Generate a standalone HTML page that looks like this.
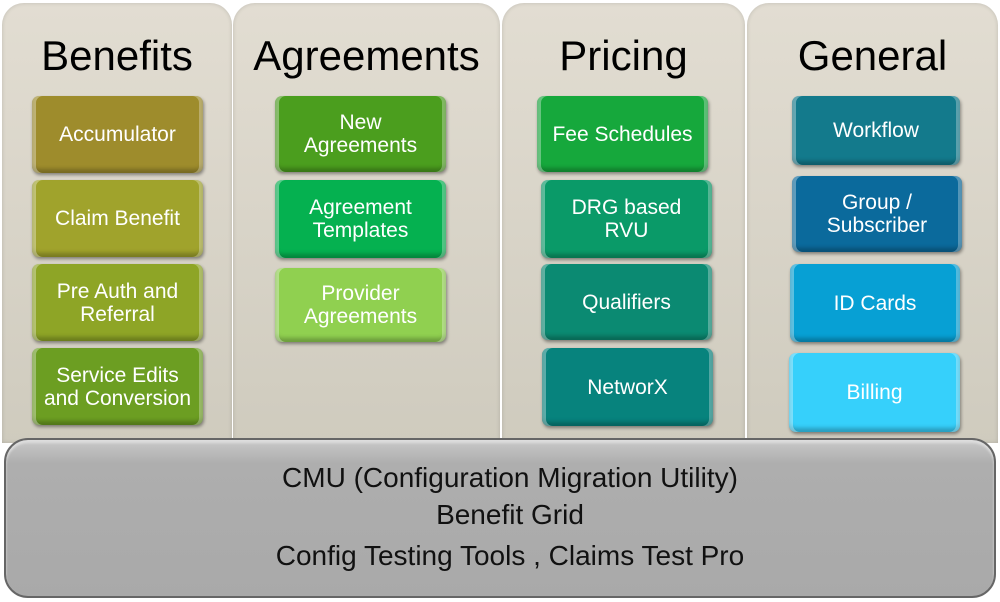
<!DOCTYPE html>
<html><head><style>
body{margin:0;width:1000px;height:602px;background:#fff;position:relative;overflow:hidden;font-family:"Liberation Sans",sans-serif}
.col{position:absolute;top:3px;height:440px;border-radius:22px 22px 0 0;background:linear-gradient(#e2ddd2,#cfcbbe);box-shadow:inset 0 0 4px rgba(0,0,0,.15)}
.h{position:absolute;top:29px;width:100%;text-align:center;font-size:42px;color:#000}
.b{position:absolute;border-radius:7px;color:#fff;font-size:21px;text-align:center;display:flex;align-items:center;justify-content:center;line-height:23px;box-shadow:inset 4px 0 0 rgba(255,255,255,.35),inset -4px 0 0 rgba(255,255,255,.3),inset 0 -4px 4px rgba(0,0,0,.25),1px 2px 3px rgba(0,0,0,.4)}
.bar{position:absolute;left:4px;top:438px;width:988px;height:156px;border-radius:24px;background:linear-gradient(#c8c8c8,#aeaeae 15%,#a9a9a9);border:2px solid #666;box-shadow:inset 0 3px 2px #ddd}
.t{position:absolute;width:100%;text-align:center;font-size:28px;color:#111;margin-left:10px}
</style></head><body>
<div class="col" style="left:2px;width:230px"><div class="h">Benefits</div></div>
<div class="col" style="left:233px;width:267px"><div class="h">Agreements</div></div>
<div class="col" style="left:502px;width:243px"><div class="h">Pricing</div></div>
<div class="col" style="left:747px;width:251px"><div class="h">General</div></div>

<div class="b" style="left:32px;top:96px;width:171px;height:77px;background:#9e8c2c">Accumulator</div>
<div class="b" style="left:32px;top:180px;width:171px;height:77px;background:#a0a32c">Claim Benefit</div>
<div class="b" style="left:32px;top:264px;width:171px;height:77px;background:#8ea526">Pre Auth and<br>Referral</div>
<div class="b" style="left:32px;top:348px;width:171px;height:77px;background:#6c9e22">Service Edits<br>and Conversion</div>

<div class="b" style="left:275px;top:96px;width:171px;height:76px;background:#4b9e1e">New<br>Agreements</div>
<div class="b" style="left:275px;top:180px;width:171px;height:78px;background:#05b150">Agreement<br>Templates</div>
<div class="b" style="left:275px;top:268px;width:171px;height:74px;background:#90d050">Provider<br>Agreements</div>

<div class="b" style="left:537px;top:96px;width:171px;height:76px;background:#16a83c">Fee Schedules</div>
<div class="b" style="left:541px;top:180px;width:171px;height:78px;background:#0a9a68">DRG based<br>RVU</div>
<div class="b" style="left:541px;top:264px;width:171px;height:76px;background:#0b8a72">Qualifiers</div>
<div class="b" style="left:542px;top:348px;width:171px;height:78px;background:#07837d">NetworX</div>

<div class="b" style="left:792px;top:96px;width:168px;height:69px;background:#137a8c">Workflow</div>
<div class="b" style="left:792px;top:176px;width:170px;height:76px;background:#0b6a9c">Group /<br>Subscriber</div>
<div class="b" style="left:790px;top:264px;width:170px;height:78px;background:#07a0d4">ID Cards</div>
<div class="b" style="left:789px;top:353px;width:171px;height:79px;background:#36d0fb">Billing</div>

<div class="bar">
<div class="t" style="top:22px">CMU (Configuration Migration Utility)</div>
<div class="t" style="top:59px">Benefit Grid</div>
<div class="t" style="top:100px">Config Testing Tools , Claims Test Pro</div>
</div>
</body></html>
